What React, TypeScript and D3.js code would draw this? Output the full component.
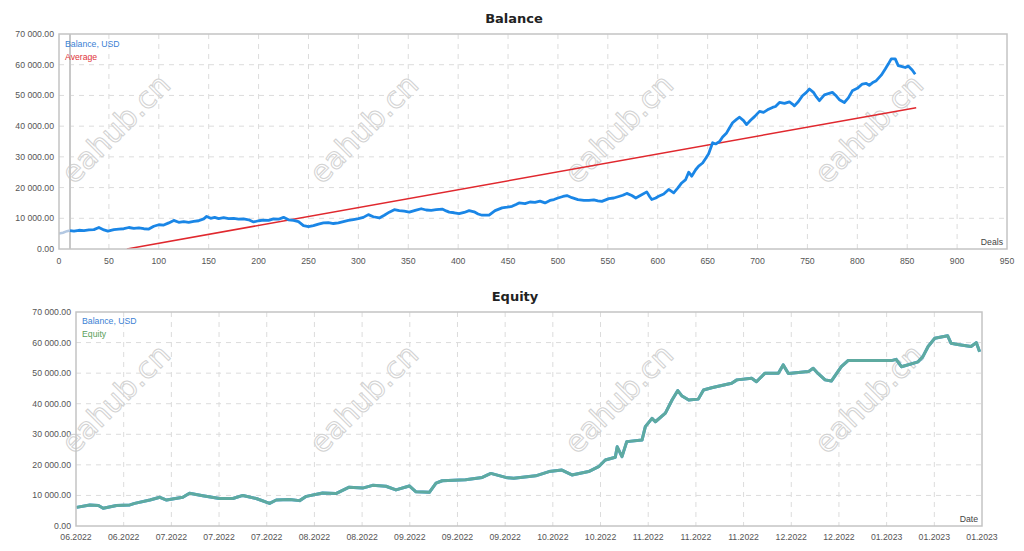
import * as d3 from 'd3';

// ---- data ----
const yTicks = [0, 10000, 20000, 30000, 40000, 50000, 60000, 70000];
const dealTicks = [0, 50, 100, 150, 200, 250, 300, 350, 400, 450, 500, 550, 600, 650, 700, 750, 800, 850, 900, 950];

const startDeals = [0, 4, 8, 11];
const startValues = [5000, 5300, 5800, 6000];

const balanceDeals = [
  11, 15, 20, 25, 30, 35, 40, 45, 49, 55, 60, 65, 70, 75, 80, 85, 90, 95, 100, 105,
  110, 115, 120, 125, 130, 135, 140, 145, 148, 152, 156, 160, 165, 170, 175, 180, 185, 190, 195, 200,
  205, 210, 215, 220, 225, 230, 235, 240, 245, 250, 255, 260, 265, 270, 275, 280, 285, 290, 295, 300,
  305, 310, 315, 321, 326, 331, 336, 341, 346, 351, 357, 363, 368, 373, 378, 384, 388, 391, 396, 401,
  406, 411, 416, 420, 424, 431, 437, 444, 449, 454, 458, 461, 467, 472, 477, 482, 487, 492, 496, 500,
  505, 509, 514, 520, 526, 531, 536, 540, 544, 551, 556, 561, 565, 569, 574, 578, 583, 589, 592, 594,
  598, 601, 606, 611, 616, 620, 624, 628, 631, 634, 638, 641, 645, 648, 651, 655, 658, 662, 665, 669,
  672, 675, 679, 682, 686, 689, 693, 697, 702, 706, 710, 715, 718, 722, 727, 732, 735, 737, 741, 745,
  749, 752, 756, 759, 762, 767, 771, 775, 779, 782, 787, 791, 795, 800, 805, 809, 812, 816, 819, 824,
  828, 831, 834, 838, 841, 845, 848, 851, 855, 858,
];
const balanceValues = [
  6000, 5800, 6100, 6000, 6200, 6300, 7000, 6200, 5800, 6300, 6500, 6600, 7000, 6700, 6900, 6600, 6500, 7400, 7900, 7800,
  8500, 9300, 8700, 8900, 8700, 9000, 9200, 9800, 10600, 10000, 10300, 9900, 10200, 9900, 10000, 9700, 9800, 9500, 8800, 9200,
  9400, 9300, 9800, 9700, 10300, 9500, 9300, 8900, 7600, 7300, 7600, 8100, 8500, 8600, 8300, 8500, 8900, 9300, 9600, 9900,
  10300, 11200, 10500, 10100, 11000, 12000, 12800, 12500, 12300, 12000, 12600, 13100, 12700, 12600, 12800, 13000, 12400, 12000, 11800, 11500,
  11900, 12500, 12100, 11400, 11000, 11000, 12500, 13400, 13600, 13900, 14500, 15000, 14800, 15300, 15200, 15600, 15000, 15800, 16100, 16600,
  17100, 17400, 16700, 16100, 15800, 15800, 16000, 15700, 15500, 16400, 16600, 17100, 17500, 18100, 17400, 16600, 17500, 18600, 17000, 16100,
  16600, 17200, 17900, 19400, 18300, 19800, 21500, 22600, 25000, 23700, 25800, 27000, 28000, 29500, 31000, 34600, 34200, 35000, 36500, 37800,
  39500, 41100, 42200, 42900, 41800, 40500, 41900, 43100, 44800, 44500, 45300, 46100, 46400, 47700, 47400, 47900, 47200, 46600, 48000, 49900,
  51000, 52100, 51000, 49500, 48300, 50200, 50600, 51000, 49800, 48600, 47700, 49200, 51500, 52300, 53700, 53900, 53300, 54300, 54800, 56600,
  58600, 60200, 61900, 61900, 59700, 59400, 59100, 59600, 58300, 56900,
];

const averageDeals = [68, 859];
const averageValues = [0, 46000];

const dateLabels = [
  '06.2022', '06.2022', '07.2022', '07.2022', '07.2022', '08.2022', '08.2022', '09.2022', '09.2022', '09.2022',
  '10.2022', '10.2022', '11.2022', '11.2022', '11.2022', '12.2022', '12.2022', '01.2023', '01.2023', '01.2023',
];

// position in date-label steps
const equityPos = [
  0.01, 0.29, 0.47, 0.57, 0.85, 1.13, 1.23, 1.55, 1.76, 1.9, 2.24, 2.38, 2.66, 3.01, 3.29, 3.5, 3.78, 4.06, 4.2, 4.48,
  4.69, 4.83, 5.17, 5.45, 5.73, 6.01, 6.22, 6.5, 6.71, 6.99, 7.13, 7.41, 7.55, 7.68, 8.17, 8.52, 8.7, 9.01, 9.18, 9.64,
  9.92, 10.19, 10.4, 10.75, 10.96, 11.1, 11.31, 11.35, 11.45, 11.55, 11.87, 11.94, 12.08, 12.15, 12.36, 12.5, 12.62, 12.71, 12.85, 13.05,
  13.16, 13.33, 13.75, 13.86, 14.17, 14.27, 14.45, 14.73, 14.83, 14.94, 15.36, 15.46, 15.56, 15.71, 15.84, 16.05, 16.19, 17.1, 17.2, 17.31,
  17.66, 17.76, 17.87, 18.01, 18.28, 18.35, 18.49, 18.77, 18.88, 18.95,
];
const equityValues = [
  6100, 6900, 6700, 5800, 6700, 6900, 7400, 8500, 9400, 8500, 9400, 10700, 9900, 9000, 9000, 10000, 9000, 7400, 8500, 8700,
  8300, 9700, 10800, 10600, 12700, 12400, 13300, 13000, 11800, 13100, 11200, 11000, 14000, 14800, 15100, 15900, 17200, 15900, 15600, 16400,
  17800, 18300, 16700, 17800, 19400, 21600, 22500, 25900, 22700, 27600, 28100, 32500, 35200, 34100, 36900, 41200, 44300, 42500, 41200, 41500,
  44500, 45200, 46700, 47800, 48300, 47200, 50000, 50000, 52700, 49900, 50500, 51600, 49900, 47800, 47400, 52100, 54100, 54100, 54500, 52100,
  53700, 55400, 58700, 61400, 62200, 59800, 59400, 58700, 60000, 57000,
];

const watermarkX = [117, 365, 620, 870];

const FONT = '"Liberation Sans", Arial, sans-serif';
const fmt = (v: number) => d3.format(',.2f')(v).replace(/,/g, ' ');

const BLUE = '#1a86e6';
const RED = '#e0282e';

function Frame({ left, right, top, bottom, xTicks }: { left: number; right: number; top: number; bottom: number; xTicks: number[] }) {
  const y = d3.scaleLinear().domain([0, 70000]).range([bottom, top]);
  return (
    <g>
      {yTicks.map((t) => (
        <g key={'y' + t}>
          {t > 0 && t < 70000 && (
            <line x1={left} x2={right} y1={y(t)} y2={y(t)} stroke="#dcdcdc" strokeDasharray="5,5" />
          )}
          <text x={left - 5} y={y(t) + 3} textAnchor="end" fontSize={8.7} fill="#555">
            {fmt(t)}
          </text>
        </g>
      ))}
      {xTicks.map((px, i) => (
        <line key={'x' + i} x1={px} x2={px} y1={top} y2={bottom} stroke="#dcdcdc" strokeDasharray="5,5" />
      ))}
    </g>
  );
}

function Watermarks({ cy }: { cy: number }) {
  return (
    <g>
      {watermarkX.map((cx) => (
        <text
          key={cx}
          x={cx}
          y={cy}
          transform={`rotate(-45 ${cx} ${cy})`}
          textAnchor="middle"
          dominantBaseline="middle"
          fontFamily='"DejaVu Sans", sans-serif'
          fontSize={30}
          fill="none"
          stroke="#d2d2d2"
          strokeWidth={1}
        >
          eahub.cn
        </text>
      ))}
    </g>
  );
}

export default function App() {
  // top chart
  const t = { left: 59, right: 1007, top: 34, bottom: 249 };
  const xd = d3.scaleLinear().domain([0, 950]).range([t.left, t.right]);
  const yb = d3.scaleLinear().domain([0, 70000]).range([t.bottom, t.top]);
  const lineTop = d3.line<[number, number]>().x((d) => xd(d[0])).y((d) => yb(d[1]));
  const startPts = startDeals.map((d, i) => [d, startValues[i]] as [number, number]);
  const balPts = balanceDeals.map((d, i) => [d, balanceValues[i]] as [number, number]);
  const avgPts = averageDeals.map((d, i) => [d, averageValues[i]] as [number, number]);

  // bottom chart
  const b = { left: 76, right: 982, top: 312, bottom: 526 };
  const xt = d3.scaleLinear().domain([0, dateLabels.length - 1]).range([b.left, b.right]);
  const ye = d3.scaleLinear().domain([0, 70000]).range([b.bottom, b.top]);
  const lineBot = d3.line<[number, number]>().x((d) => xt(d[0])).y((d) => ye(d[1]));
  const eqPts = equityPos.map((p, i) => [p, equityValues[i]] as [number, number]);

  return (
    <svg
      width={1024}
      height={551}
      style={{ position: 'absolute', left: 0, top: 0, background: '#fff' }}
      fontFamily={FONT}
    >
      <defs>
        <clipPath id="clipTop">
          <rect x={t.left} y={t.top} width={t.right - t.left} height={t.bottom - t.top} />
        </clipPath>
        <clipPath id="clipBot">
          <rect x={b.left} y={b.top} width={b.right - b.left} height={b.bottom - b.top} />
        </clipPath>
      </defs>

      {/* ---------- Balance ---------- */}
      <text x={514} y={23} textAnchor="middle" fontFamily='"DejaVu Sans", sans-serif' fontWeight="bold" fontSize={13} fill="#222">
        Balance
      </text>
      <Frame {...t} xTicks={dealTicks.slice(1, -1).map((d) => xd(d))} />
      <Watermarks cy={130} />
      {dealTicks.map((d) => (
        <text key={d} x={xd(d)} y={264} textAnchor="middle" fontSize={8.7} fill="#555">
          {d}
        </text>
      ))}
      <line x1={xd(11)} x2={xd(11)} y1={t.top} y2={t.bottom} stroke="#c8c8c8" strokeWidth={2} />
      <g clipPath="url(#clipTop)">
        <path d={lineTop(startPts) ?? ''} fill="none" stroke="#b3c8e2" strokeWidth={2.5} />
        <path d={lineTop(avgPts) ?? ''} fill="none" stroke={RED} strokeWidth={1.5} />
        <path d={lineTop(balPts) ?? ''} fill="none" stroke={BLUE} strokeWidth={2.8} strokeLinejoin="round" />
      </g>
      <rect x={t.left} y={t.top} width={t.right - t.left} height={t.bottom - t.top} fill="none" stroke="#c4c4c4" strokeWidth={1.5} />
      <text x={65} y={47} fontSize={8.7} fill="#3b7fd4">Balance, USD</text>
      <text x={65} y={60} fontSize={8.7} fill="#e0343a">Average</text>
      <text x={1003} y={245} textAnchor="end" fontSize={8.7} fill="#444">Deals</text>

      {/* ---------- Equity ---------- */}
      <text x={515} y={301} textAnchor="middle" fontFamily='"DejaVu Sans", sans-serif' fontWeight="bold" fontSize={13} fill="#222">
        Equity
      </text>
      <Frame {...b} xTicks={dateLabels.slice(1, -1).map((_, i) => xt(i + 1))} />
      <Watermarks cy={400} />
      {dateLabels.map((l, i) => (
        <text key={i} x={xt(i)} y={540} textAnchor="middle" fontSize={8.7} fill="#555">
          {l}
        </text>
      ))}
      <g clipPath="url(#clipBot)">
        <path d={lineBot(eqPts) ?? ''} fill="none" stroke={BLUE} strokeWidth={3} strokeLinejoin="round" />
        <path d={lineBot(eqPts) ?? ''} fill="none" stroke="#6fb38f" strokeOpacity={0.8} strokeWidth={3} strokeLinejoin="round" />
      </g>
      <rect x={b.left} y={b.top} width={b.right - b.left} height={b.bottom - b.top} fill="none" stroke="#c4c4c4" strokeWidth={1.5} />
      <text x={82} y={324} fontSize={8.7} fill="#3b7fd4">Balance, USD</text>
      <text x={82} y={337} fontSize={8.7} fill="#5aa05a">Equity</text>
      <text x={978} y={522} textAnchor="end" fontSize={8.7} fill="#444">Date</text>
    </svg>
  );
}
